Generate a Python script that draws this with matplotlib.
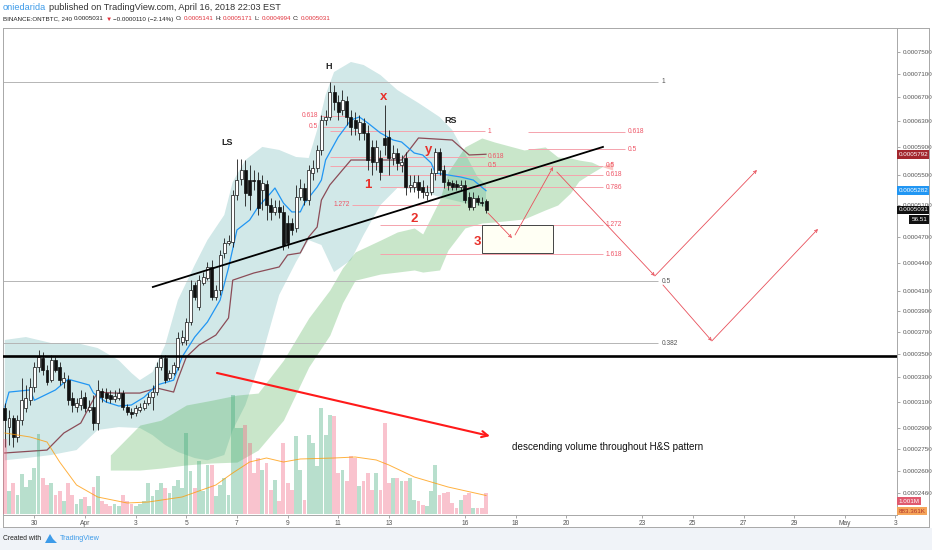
import matplotlib.pyplot as plt
import matplotlib.patches as mpatches
from matplotlib.lines import Line2D
from matplotlib.ticker import NullLocator, FixedLocator, FuncFormatter
import numpy as np
import pandas as pd

plt.rcParams['font.family'] = ['Liberation Sans', 'DejaVu Sans']

# ---------------- data: BINANCE:ONTBTC, 4h bars, prices in 1e-7 BTC ----------------
opens = [3049, 2906, 2972, 2834, 2957, 3049, 3110, 3216, 3383, 3460,
         3357, 3272, 3441, 3383, 3256, 3272, 3126, 3057, 3073, 3134,
         3034, 3057, 2935, 3184, 3167, 3151, 3118, 3126, 3167, 3057,
         3019, 3011, 3034, 3049, 3088, 3134, 3175, 3383, 3460, 3289,
         3332, 3383, 3601, 3620, 3790, 4162, 3937, 4182, 4235, 4356,
         4037, 4110, 4513, 4628, 4640, 5225, 5440, 5566, 5426, 5426,
         5426, 5291, 5372, 5095, 5006, 5069, 5006, 4868, 4868, 4807,
         5198, 5318, 5158, 5524, 5594, 5855, 6315, 6364, 6779, 6610,
         6477, 6627, 6364, 6315, 6112, 6268, 6112, 5900, 5680, 5737,
         6035, 6050, 5737, 5810, 5637, 5737, 5331, 5331, 5399, 5331,
         5225, 5264, 5524, 5825, 5566, 5399, 5385, 5372, 5331, 5359,
         5198, 5069, 5184, 5133, 5141]
highs = [3088, 3034, 2996, 2996, 3289, 3232, 3289, 3424, 3531, 3513,
         3400, 3487, 3469, 3424, 3340, 3315, 3175, 3126, 3192, 3175,
         3110, 3151, 3272, 3208, 3208, 3192, 3192, 3208, 3192, 3080,
         3049, 3073, 3088, 3110, 3167, 3232, 3424, 3487, 3487, 3357,
         3424, 3695, 3714, 3829, 4213, 4192, 4268, 4296, 4410, 4432,
         4162, 4547, 4685, 4723, 5291, 5720, 5720, 5708, 5637, 5566,
         5540, 5496, 5426, 5184, 5158, 5158, 5095, 4968, 4930, 5359,
         5440, 5385, 5637, 5708, 5929, 6396, 6477, 6953, 6900, 6728,
         6813, 6711, 6477, 6445, 6396, 6347, 6236, 6004, 6004, 5855,
         6560, 6158, 5929, 5885, 5781, 5825, 5496, 5496, 5496, 5426,
         5359, 5594, 5885, 5885, 5637, 5440, 5426, 5426, 5426, 5426,
         5264, 5264, 5225, 5198, 5171]
lows = [2763, 2777, 2763, 2797, 2921, 3019, 3073, 3175, 3340, 3315,
        3232, 3256, 3340, 3232, 3208, 3073, 3019, 3019, 3034, 3019,
        3019, 2885, 2885, 3096, 3096, 3088, 3096, 3110, 3034, 2996,
        2972, 2988, 3019, 3034, 3073, 3034, 3151, 3357, 3248, 3272,
        3315, 3357, 3576, 3576, 3761, 4005, 3907, 4162, 4213, 4005,
        4005, 4058, 4456, 4605, 4582, 5158, 5359, 5082, 5031, 5291,
        4968, 5031, 4904, 4904, 4968, 4930, 4547, 4570, 4723, 4759,
        5158, 5095, 5095, 5426, 5540, 5781, 6236, 6315, 6477, 6315,
        6396, 6236, 6081, 6081, 6004, 6004, 5566, 5496, 5566, 5426,
        5781, 5496, 5637, 5566, 5540, 5225, 5264, 5264, 5184, 5184,
        5158, 5225, 5426, 5496, 5318, 5291, 5291, 5291, 5291, 5120,
        5031, 5031, 5095, 5082, 4994]
closes = [2957, 2972, 2834, 2957, 3110, 3126, 3216, 3383, 3469, 3357,
          3256, 3441, 3357, 3272, 3289, 3110, 3073, 3088, 3126, 3049,
          3057, 2935, 3192, 3134, 3126, 3118, 3143, 3167, 3057, 3019,
          3004, 3049, 3057, 3088, 3134, 3175, 3383, 3460, 3272, 3332,
          3400, 3639, 3649, 3790, 4110, 4037, 4213, 4246, 4356, 4037,
          4110, 4490, 4628, 4651, 5225, 5426, 5566, 5251, 5225, 5414,
          5057, 5385, 5095, 5006, 5069, 5006, 4605, 4628, 4783, 5198,
          5318, 5158, 5566, 5594, 5855, 6315, 6364, 6779, 6610, 6445,
          6643, 6364, 6205, 6189, 6283, 6112, 5708, 5680, 5900, 5540,
          5929, 5737, 5810, 5665, 5680, 5331, 5359, 5399, 5291, 5264,
          5264, 5524, 5825, 5566, 5399, 5359, 5331, 5331, 5359, 5158,
          5069, 5184, 5133, 5120, 5031]
# volume per bar, thousands of ONT
volumes = [3600, 1100, 1500, 900, 1900, 1300, 1600, 2200, 3800, 1700,
           1400, 1500, 900, 1100, 600, 1500, 900, 500, 700, 800,
           400, 1300, 1800, 600, 500, 400, 500, 400, 900, 600,
           500, 400, 500, 600, 1479, 843, 1161, 1479, 1240, 1002,
           1320, 1638, 1240, 3864, 2035, 1240, 2512, 1081, 2353, 2353,
           843, 1399, 1717, 922, 5692, 4102, 4102, 4261, 3387, 1956,
           2671, 2115, 2433, 1161, 1638, 604, 3387, 1479, 1161, 3705,
           2115, 684, 3784, 3387, 2274, 5056, 3784, 4738, 4659, 1956,
           2115, 1558, 2751, 2671, 1320, 1558, 1956, 1161, 1956, 1161,
           4341, 1479, 1717, 1717, 1558, 1558, 1717, 684, 604, 445,
           366, 1081, 2353, 922, 1002, 1049, 525, 286, 684, 922,
           1002, 286, 286, 286, 1001]

# indicators, sampled at bar numbers (1-based)
bb_up_bar = [1, 6, 12, 18, 23, 28, 31, 33, 36, 39, 42, 46, 49, 53, 55, 58, 62,
             66, 70, 73, 75, 77, 79, 83, 86, 90, 94, 99, 104, 107, 110, 113, 115]
bb_upper = [3622, 3649, 3594, 3594, 3549, 3441, 3332, 3272, 3340, 3576, 4005,
            4378, 4662, 4968, 5400, 5708, 5900, 5855, 5752, 5737, 6158, 6728,
            7130, 7313, 7258, 7076, 6813, 6593, 6364, 6158, 5810, 5468, 5359]
bb_lo_bar = [1, 6, 12, 18, 23, 28, 33, 36, 39, 42, 46, 49, 53, 55, 58, 62, 66,
             70, 73, 76, 79, 83, 86, 90, 94, 99, 104, 110, 115]
bb_lower = [2672, 2687, 2708, 2742, 2885, 2906, 2899, 2848, 2777, 2729, 2687,
            2672, 2708, 2885, 3073, 3487, 4058, 4411, 4662, 4605, 4300, 4432,
            4723, 5095, 5318, 5291, 5198, 5120, 5069]

cloud_bar = [26, 33, 38, 44, 50, 56, 61, 67, 73, 78, 81, 84, 90, 94, 98, 100,
             104, 106, 110, 114, 117, 124, 129, 132, 135, 137, 140, 142, 145]
span_a = [2708, 2921, 2957, 3073, 3110, 3151, 3167, 3441, 3829, 4110, 4345,
          4524, 4662, 4759, 4807, 4735, 5158, 5538, 5900, 6035, 5974, 5855,
          5900, 5752, 5737, 5708, 5679, 5623, 5566]
span_b = [2607, 2607, 2620, 2641, 2654, 2660, 2742, 2957, 3383, 3667, 3977,
          4213, 4279, 4300, 4323, 4300, 4323, 4547, 4807, 4868, 4880, 4918,
          5031, 5095, 5252, 5413, 5524, 5594, 5694]

tenkan_bar = [1, 2, 7, 8, 13, 16, 21, 22, 25, 28, 31, 34, 37, 41, 43, 46, 49,
              52, 54, 56, 59, 61, 64, 65, 67, 69, 71, 72, 75, 76, 77, 80, 83,
              85, 87, 90, 93, 95, 98, 100, 102, 103, 106, 109, 112, 115]
tenkan = [3057, 3175, 3192, 3110, 3192, 3280, 3232, 3167, 3096, 3065, 3073,
          3134, 3232, 3272, 3469, 3649, 3790, 4005, 4345, 4783, 4904, 5069,
          5251, 5318, 5120, 5006, 5006, 5120, 5331, 5426, 5708, 6050, 6315,
          6364, 6268, 6111, 6004, 5974, 5810, 5781, 5665, 5524, 5496, 5468,
          5426, 5282]
kijun_bar = [1, 11, 15, 19, 21, 23, 27, 33, 37, 41, 42, 44, 47, 51, 54, 55, 60,
             66, 68, 71, 73, 75, 76, 78, 81, 83, 95, 99, 107, 111, 115]
kijun = [2722, 2742, 2863, 2936, 3057, 3175, 3167, 3167, 3208, 3175, 3280,
         3469, 3576, 3667, 3829, 4213, 4290, 4356, 4490, 4513, 4699, 4819,
         5158, 5359, 5566, 5708, 5708, 6035, 6004, 5781, 5792]

vol_ma_bar = [1, 7, 11, 14, 18, 23, 30, 35, 43, 51, 55, 59, 63, 67, 71, 79,
              84, 89, 92, 98, 106, 115]
vol_ma = [3864, 3673, 3434, 2480, 1383, 811, 525, 572, 811, 1383, 1956, 2480,
          2671, 2480, 2624, 2671, 2719, 2576, 2337, 1765, 1288, 883]

# drawings: time in days since Apr 1 2018, price in 1e-7 BTC
support_price = 3478
gray_fib_labels = ['1', '0.5', '0.382']
gray_fib_prices = [6953, 4204, 3594]
gray_fib_end = 22.62
neck_days = [2.68, 20.45]
neck_prices = [4141, 5900]
red_fibs = [
    (['0.618', '0.5'], [6380, 6205], 9.28, 10.26, 'left'),
    (['1.272'], [5095], 10.54, 14.80, 'left'),
    (['1', '0.618', '0.5'], [6142, 5752, 5623], 9.67, 15.79, 'right'),
    (['0.5', '0.618', '0.786', '1.272', '1.618'], [5623, 5496, 5331, 4844, 4501], 11.65, 20.45, 'right'),
    (['0.618', '0.5'], [6127, 5869], 17.49, 21.32, 'right'),
]
arrow_paths = [
    ([15.91, 16.86], [4992, 4687]),
    ([16.98, 18.48], [4723, 5608]),
    ([18.63, 22.50, 26.53], [5538, 4258, 5566]),
    ([22.82, 24.75, 28.94], [4162, 3613, 4795]),
]
vol_arrow_days = [5.21, 15.99]
vol_arrow_prices = [3332, 2841]
box_days = [15.67, 18.48]
box_prices = [4513, 4844]
marks = [('H', 9.63, 7239), ('LS', 5.61, 5959), ('RS', 14.45, 6300)]
red_marks = [('x', 11.80, 6694), ('y', 13.58, 5855), ('1', 11.17, 5359),
             ('2', 12.99, 4918), ('3', 15.48, 4640)]
note_text = 'descending volume throughout H&S pattern'
note_pos = (16.86, 2763)

price_ticks = [7500, 7100, 6700, 6300, 5900, 5500, 5100, 4700, 4400, 4100,
               3900, 3700, 3500, 3300, 3100, 2900, 2750, 2600, 2460]
date_ticks = ['2018-03-30', '2018-04-01', '2018-04-03', '2018-04-05', '2018-04-07',
              '2018-04-09', '2018-04-11', '2018-04-13', '2018-04-16', '2018-04-18',
              '2018-04-20', '2018-04-23', '2018-04-25', '2018-04-27', '2018-04-29',
              '2018-05-01', '2018-05-03']
date_labels = ['30', 'Apr', '3', '5', '7', '9', '11', '13', '16', '18', '20',
               '23', '25', '27', '29', 'May', '3']

SC = 1e-7
APR1 = pd.Timestamp('2018-04-01')
DAY = pd.Timedelta(days=1)
FIRST_BAR = pd.Timestamp('2018-03-28 20:00')


def bar_day(bar):
    return (FIRST_BAR - APR1) / DAY + (np.asarray(bar, float) - 1) / 6.0


def p(v):
    return np.asarray(v, float) * SC


W, H = 932, 550
fig = plt.figure(figsize=(W / 100, H / 100), dpi=100)
fig.patch.set_facecolor('white')
L_px, R_px, T_px, B_px = 3, 897, 28, 515
ax = fig.add_axes([L_px / W, 1 - B_px / H, (R_px - L_px) / W, (B_px - T_px) / H])
ax.set_yscale('log')
ax.set_ylim(2327 * SC, 7969 * SC)
ax.set_xlim(-3.237, 32.06)

# bollinger band fill
ax.fill(np.concatenate([bar_day(bb_up_bar), bar_day(bb_lo_bar)[::-1]]),
        np.concatenate([p(bb_upper), p(bb_lower)[::-1]]),
        color='#008080', alpha=0.18, lw=0, zorder=1)

# ichimoku cloud
ct = bar_day(cloud_bar)
a, b = p(span_a), p(span_b)
ax.fill_between(ct, a, b, where=a >= b, interpolate=True, color='#4caf50', alpha=0.3, lw=0, zorder=1.5)
ax.fill_between(ct, a, b, where=a < b, interpolate=True, color='#f44336', alpha=0.3, lw=0, zorder=1.5)

# gray fib
for lab, pr in zip(gray_fib_labels, gray_fib_prices):
    ax.hlines(pr * SC, -3.237, gray_fib_end, color='#b5b5b5', lw=0.7, zorder=2)
    ax.text(gray_fib_end + 0.15, pr * SC, lab, fontsize=4.8, color='#555555', va='center', ha='left', zorder=6)
ax.axhline(support_price * SC, color='black', lw=1.9, zorder=6)

# red fib groups
for labs, prs, d0, d1, side in red_fibs:
    for lab, pr in zip(labs, prs):
        ax.hlines(pr * SC, d0, d1, color='#f5a3ad', lw=0.7, zorder=2)
        if side == 'left':
            ax.text(d0 - 0.08, pr * SC, lab, fontsize=4.8, color='#ee5566', va='center', ha='right', zorder=6)
        else:
            ax.text(d1 + 0.12, pr * SC, lab, fontsize=4.8, color='#ee5566', va='center', ha='left', zorder=6)

# tenkan / kijun
ax.plot(bar_day(kijun_bar), p(kijun), color='#8b4c57', lw=0.9, zorder=3)
ax.plot(bar_day(tenkan_bar), p(tenkan), color='#2196f3', lw=0.9, zorder=3)

# candles
o, h, l, c = p(opens), p(highs), p(lows), p(closes)
t = bar_day(np.arange(1, len(closes) + 1))
up = c >= o
ax.vlines(t, l, h, color='#1a1a1a', lw=0.6, zorder=4)
ax.bar(t, np.abs(c - o), bottom=np.minimum(o, c), width=0.118,
       color=np.where(up, 'white', '#111111'), edgecolor='#111111', lw=0.5, zorder=5)

# neckline, arrows, box
ax.plot(neck_days, p(neck_prices), color='black', lw=1.3, zorder=6)
for days, prs in arrow_paths:
    for i in range(len(days) - 1):
        ax.annotate('', xy=(days[i + 1], prs[i + 1] * SC), xytext=(days[i], prs[i] * SC),
                    arrowprops=dict(arrowstyle='->', color='#e8505b', lw=0.6,
                                    shrinkA=0, shrinkB=0, mutation_scale=5), zorder=7)
ax.annotate('', xy=(vol_arrow_days[1], vol_arrow_prices[1] * SC),
            xytext=(vol_arrow_days[0], vol_arrow_prices[0] * SC),
            arrowprops=dict(arrowstyle='->', color='#ff1a1a', lw=1.5,
                            shrinkA=0, shrinkB=0, mutation_scale=11), zorder=7)
ax.add_patch(mpatches.Rectangle((box_days[0], box_prices[0] * SC), box_days[1] - box_days[0],
                                (box_prices[1] - box_prices[0]) * SC,
                                facecolor='#fffff4', edgecolor='#444444', lw=0.7, zorder=6))

for s, d, pr in marks:
    ax.text(d, pr * SC, s, fontsize=6.5, fontweight='bold', color='#222222', ha='center', va='center', zorder=8)
for s, d, pr in red_marks:
    ax.text(d, pr * SC, s, fontsize=9.5, fontweight='bold', color='#e8302a', ha='center', va='center', zorder=8)
ax.text(note_pos[0], note_pos[1] * SC, note_text, fontsize=7.1, color='#111111', ha='left', va='center', zorder=8)

# volume overlay
axv = ax.twinx()
axv.set_ylim(-48, 23182)
axv.bar(t, volumes, width=0.15, color=np.where(up, '#3aa876', '#ef5a78'), alpha=0.36, lw=0, zorder=1)
axv.plot(bar_day(vol_ma_bar), vol_ma, color='#ff9800', lw=0.7, alpha=0.75, zorder=2)
axv.yaxis.set_visible(False)
for sp in axv.spines.values():
    sp.set_visible(False)

# axes styling (after twinx, which moves ticks to the left)
for sp in ax.spines.values():
    sp.set_color('#a8a8a8')
    sp.set_linewidth(0.7)
ax.yaxis.tick_right()
ax.yaxis.set_major_locator(FixedLocator(p(price_ticks)))
ax.yaxis.set_minor_locator(NullLocator())
ax.yaxis.set_major_formatter(FuncFormatter(lambda v, pos: f'{v:.7f}'))
ax.tick_params(axis='y', which='both', left=False, labelleft=False, right=True, labelright=True,
               length=2.5, width=0.6, color='#999999', pad=1.5, labelsize=4.5, labelcolor='#555555')
tick_days = (pd.to_datetime(date_ticks) - APR1) / DAY
ax.set_xticks(np.asarray(tick_days, float))
ax.set_xticklabels(date_labels)
ax.tick_params(axis='x', length=2, width=0.6, color='#999999', pad=1.5, labelsize=4.8, labelcolor='#555555')

# price tags
ytr = ax.get_yaxis_transform()
tag_x = 1.0017
for txt, val, bg in [('0.0005792', 5792, '#a3272e'), ('0.0005282', 5282, '#2196f3'), ('0.0005031', 5031, '#111111')]:
    axv.text(tag_x, val * SC, txt, transform=ytr, fontsize=4.5, color='white', ha='left', va='center',
             bbox=dict(boxstyle='square,pad=0.3', fc=bg, ec='none'), clip_on=False, zorder=10)
axv.annotate('56.51', xy=(1.0335, 5031 * SC), xycoords=ytr, xytext=(0, -6.8), textcoords='offset points',
             fontsize=4.5, color='white', ha='right', va='center',
             bbox=dict(boxstyle='square,pad=0.3', fc='#111111', ec='none'), annotation_clip=False, zorder=10)
vtr = axv.get_yaxis_transform()
axv.annotate('1.001M', xy=(tag_x, volumes[-1]), xycoords=vtr, xytext=(0, -5.8), textcoords='offset points',
             fontsize=4.5, color='white', ha='left', va='center',
             bbox=dict(boxstyle='square,pad=0.3', fc='#e05a6e', ec='none'), annotation_clip=False, zorder=10)
axv.annotate('883.361K', xy=(tag_x, vol_ma[-1]), xycoords=vtr, xytext=(0, -11.2), textcoords='offset points',
             fontsize=4.5, color='#b0302a', ha='left', va='center',
             bbox=dict(boxstyle='square,pad=0.3', fc='#f5a55a', ec='none'), annotation_clip=False, zorder=10)


# outer frame and footer
def fx(px):
    return px / W


def fy(py):
    return 1 - py / H


frame = dict(color='#a8a8a8', lw=0.7, transform=fig.transFigure)
fig.add_artist(Line2D([fx(R_px), fx(929)], [fy(T_px), fy(T_px)], **frame))
fig.add_artist(Line2D([fx(929), fx(929)], [fy(T_px), fy(527)], **frame))
fig.add_artist(Line2D([fx(L_px), fx(929)], [fy(527), fy(527)], **frame))
fig.add_artist(Line2D([fx(L_px), fx(L_px)], [fy(B_px), fy(527)], **frame))
fig.add_artist(mpatches.Rectangle((0, 0), 1, fy(528), transform=fig.transFigure,
                                  facecolor='#f0f3f8', edgecolor='none', zorder=-1))

renderer = fig.canvas.get_renderer()


def text_runs(x_px, y_px, runs, size, weight='normal'):
    x = x_px
    gap = size * 1.389 * 0.28
    for s, col in runs:
        tt = fig.text(fx(x), fy(y_px), s, color=col, fontsize=size, fontweight=weight, ha='left', va='center')
        x += tt.get_window_extent(renderer).width + gap


red = '#e0303a'
dark = '#333333'
text_runs(3, 8, [('oniedarida', '#3d9be9'),
                 ('published on TradingView.com, April 16, 2018 22:03 EST', dark)], 6.6)
text_runs(3, 19, [('BINANCE:ONTBTC, 240', '#222222'), ('0.0005031', '#222222'), ('▼', red),
                  ('−0.0000110 (−2.14%)', '#222222'), ('O:', '#222222'), ('0.0005141', red),
                  ('H:', '#222222'), ('0.0005171', red), ('L:', '#222222'), ('0.0004994', red),
                  ('C:', '#222222'), ('0.0005031', red)], 4.5)

fig.text(fx(3), fy(539), 'Created with', fontsize=4.9, color='#222222', ha='left', va='center')
fig.add_artist(mpatches.Polygon([[fx(45), fy(543)], [fx(50), fy(534)], [fx(53), fy(539)],
                                 [fx(57), fy(543)]], closed=True, transform=fig.transFigure,
                                facecolor='#3d9be9', edgecolor='none'))
fig.text(fx(60), fy(539), 'TradingView', fontsize=5.2, color='#3d9be9', ha='left', va='center')

fig.savefig('out.png', dpi=100)
